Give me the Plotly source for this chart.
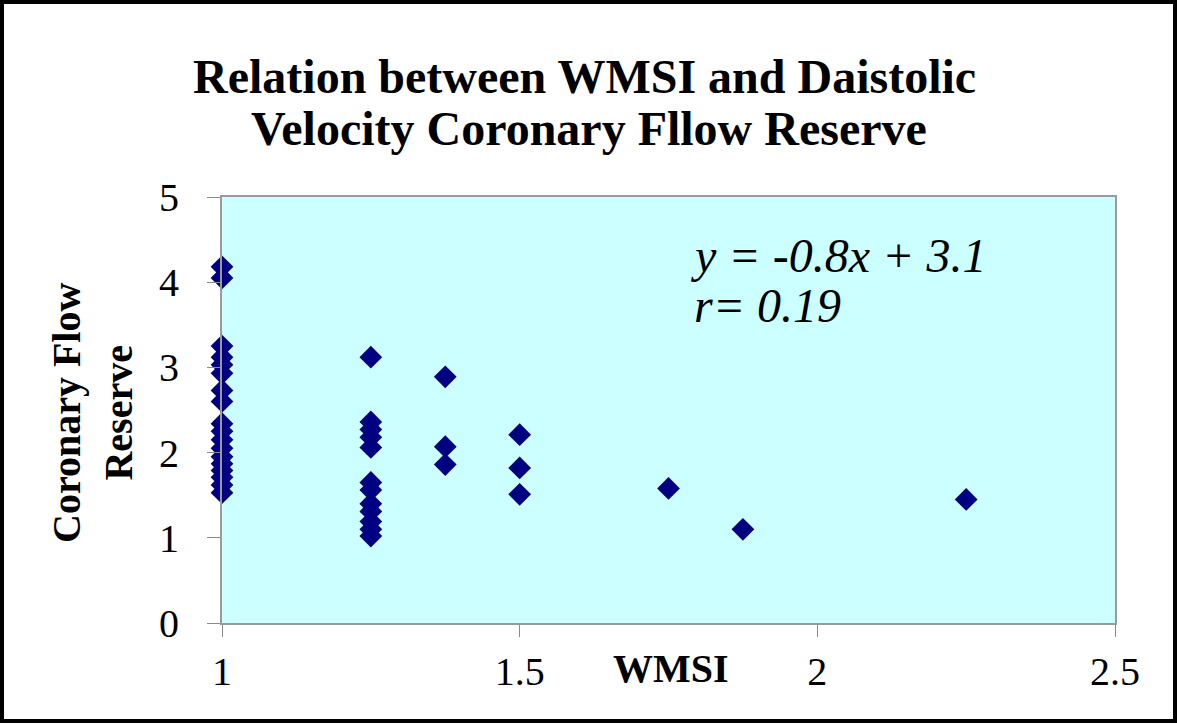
import plotly.graph_objects as go

# ---- data ----
wmsi_1 = [1.0] * 18
cfr_1 = [4.18, 4.05, 3.25, 3.12, 3.03, 2.93, 2.73, 2.60, 2.34, 2.25,
         2.15, 2.05, 1.95, 1.87, 1.79, 1.71, 1.62, 1.53]
wmsi_2 = [1.25] * 12
cfr_2 = [3.12, 2.36, 2.27, 2.18, 2.06, 1.65, 1.56, 1.40, 1.31, 1.19, 1.10, 1.02]
wmsi_3 = [1.375] * 3
cfr_3 = [2.89, 2.07, 1.86]
wmsi_4 = [1.5] * 3
cfr_4 = [2.21, 1.82, 1.51]
wmsi_5 = [1.75, 1.875, 2.25]
cfr_5 = [1.58, 1.10, 1.45]

x_ticks = [1, 1.5, 2, 2.5]
x_tick_labels = ["1", "1.5", "2", "2.5"]
y_ticks = [0, 1, 2, 3, 4, 5]

title_lines = ["Relation between WMSI and Daistolic",
               "Velocity Coronary Fllow Reserve"]
equation_text = "y = -0.8x + 3.1"
r_text = "r= 0.19"

wmsi = wmsi_1 + wmsi_2 + wmsi_3 + wmsi_4 + wmsi_5
cfr = cfr_1 + cfr_2 + cfr_3 + cfr_4 + cfr_5

W, H = 1177, 724
ML, MR, MT, MB = 222, 62, 197, 101
PW, PH = W - ML - MR, H - MT - MB

def px_x(p):
    return (p - ML) / PW

def px_y(p):
    return (H - MB - p) / PH

serif = "Liberation Serif, Times New Roman, serif"

fig = go.Figure()
fig.add_trace(go.Scatter(
    x=wmsi, y=cfr, mode="markers", cliponaxis=False,
    marker=dict(symbol="diamond", size=17.5, color="#000080",
                line=dict(width=0)),
    showlegend=False, hoverinfo="x+y",
))

fig.update_layout(
    width=W, height=H,
    margin=dict(l=ML, r=MR, t=MT, b=MB, pad=0),
    paper_bgcolor="white",
    plot_bgcolor="#CCFFFF",
    font=dict(family=serif, color="black"),
    showlegend=False,
)

fig.update_xaxes(
    range=[1, 2.5], tickvals=x_ticks, ticktext=x_tick_labels,
    showgrid=False, zeroline=False,
    showline=True, linecolor="#9a9a9a", linewidth=2, mirror=True,
    ticks="outside", ticklen=12, tickcolor="#8a8a8a", tickwidth=1,
    tickfont=dict(family=serif, size=40, color="black"),
    ticklabelstandoff=0,
)
fig.update_yaxes(
    range=[0, 5], tickvals=y_ticks,
    showgrid=False, zeroline=False,
    showline=True, linecolor="#9a9a9a", linewidth=2, mirror=True,
    ticks="outside", ticklen=13, tickcolor="#8a8a8a", tickwidth=1,
    tickfont=dict(family=serif, size=40, color="black"),
    ticklabelstandoff=20,
)

# title (two lines)
fig.add_annotation(text="<b>" + title_lines[0] + "</b>", xref="paper", yref="paper",
                   x=px_x(584), y=px_y(76), xanchor="center", yanchor="middle",
                   showarrow=False, font=dict(family=serif, size=48, color="black"))
fig.add_annotation(text="<b>" + title_lines[1] + "</b>", xref="paper", yref="paper",
                   x=px_x(589), y=px_y(128), xanchor="center", yanchor="middle",
                   showarrow=False, font=dict(family=serif, size=48, color="black"))

# y axis title
fig.add_annotation(text="<b>Coronary Flow<br>Reserve</b>", xref="paper", yref="paper",
                   x=px_x(92), y=px_y(413), xanchor="center", yanchor="middle",
                   textangle=-90, showarrow=False,
                   font=dict(family=serif, size=40, color="black"))

# x axis title (on the tick-label baseline)
fig.add_annotation(text="<b>WMSI</b>", xref="paper", yref="paper",
                   x=px_x(671), y=px_y(668), xanchor="center", yanchor="middle",
                   showarrow=False, font=dict(family=serif, size=40, color="black"))

# regression equation
fig.add_annotation(text="<i>" + equation_text + "</i>", xref="paper", yref="paper",
                   x=px_x(688), y=px_y(255), xanchor="left", yanchor="middle",
                   showarrow=False, font=dict(family=serif, size=48, color="black"))
fig.add_annotation(text="<i>" + r_text + "</i>", xref="paper", yref="paper",
                   x=px_x(692), y=px_y(305), xanchor="left", yanchor="middle",
                   showarrow=False, font=dict(family=serif, size=48, color="black"))

# outer black frame around the whole chart
fig.add_shape(type="rect", xref="paper", yref="paper",
              x0=px_x(2), x1=px_x(1175), y0=px_y(721), y1=px_y(2),
              line=dict(color="black", width=4), fillcolor="rgba(0,0,0,0)",
              layer="above")

fig.write_html("out.html", config={"displayModeBar": False},
               post_script="document.body.style.margin='0';document.body.style.overflow='hidden';")
